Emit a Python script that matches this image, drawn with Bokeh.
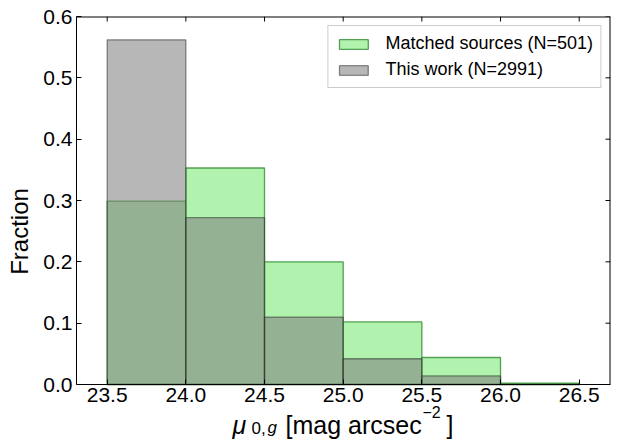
from bokeh.plotting import figure
from bokeh.models import Range1d, FixedTicker, Label, NumeralTickFormatter
from bokeh.embed import file_html
from bokeh.resources import INLINE

# ---- data ----
bin_edges = [23.5, 24.0, 24.5, 25.0, 25.5, 26.0, 26.5]
matched_frac = [0.299, 0.353, 0.200, 0.102, 0.044, 0.002]
thiswork_frac = [0.562, 0.272, 0.110, 0.042, 0.014, 0.0]
x_ticks = [23.5, 24.0, 24.5, 25.0, 25.5, 26.0, 26.5]
y_ticks = [0.0, 0.1, 0.2, 0.3, 0.4, 0.5, 0.6]
matched_label = "Matched sources (N=501)"
thiswork_label = "This work (N=2991)"
y_label = "Fraction"

FONT = "Liberation Sans"
W, H = 625, 446
BL, BR, BT = 76, 15, 16
AX_PX = 384                  # page y of the x axis (value 0)
X0, X1 = 23.305, 26.699
Y0, Y1 = 0.0, 0.6
TICK = 5                     # px, inward ticks

# the frame runs down to the page bottom so the x label can live inside it;
# the x axis is pinned at y = 0
px_per_y = (AX_PX - BT) / (Y1 - Y0)
YB = Y0 - (H - AX_PX) / px_per_y

p = figure(width=W, height=H, output_backend="svg", toolbar_location=None,
           x_range=Range1d(X0, X1), y_range=Range1d(YB, Y1),
           min_border_left=BL, min_border_right=BR, min_border_top=BT,
           min_border_bottom=0)
p.grid.visible = False
p.outline_line_color = None
p.background_fill_color = "white"
p.border_fill_color = "white"

left = bin_edges[:-1]
right = bin_edges[1:]
p.quad(left=left, right=right, bottom=0, top=matched_frac,
       fill_color="#b0f2ae", fill_alpha=1.0,
       line_color="#2e8b2e", line_alpha=0.8, line_width=1.3,
       legend_label=matched_label)
p.quad(left=left, right=right, bottom=0, top=thiswork_frac,
       fill_color="#808080", fill_alpha=0.567,
       line_color="#222222", line_alpha=0.5, line_width=1.3,
       legend_label=thiswork_label)

# box: top and right edges, plus inward ticks mirrored there
fw = W - BL - BR
dy = TICK / px_per_y
dx = (X1 - X0) * TICK / fw
p.segment(x0=[X0, X1], y0=[Y1, Y0], x1=[X1, X1], y1=[Y1, Y1],
          line_color="black", line_width=2)
p.segment(x0=x_ticks, y0=[Y1] * len(x_ticks), x1=x_ticks, y1=[Y1 - dy] * len(x_ticks),
          line_color="black", line_width=1)
p.segment(x0=[X1] * len(y_ticks), y0=y_ticks, x1=[X1 - dx] * len(y_ticks), y1=y_ticks,
          line_color="black", line_width=1)


def style_axis(ax):
    ax.major_tick_in = TICK
    ax.major_tick_out = 0
    ax.minor_tick_in = 0
    ax.minor_tick_out = 0
    ax.major_tick_line_color = "black"
    ax.major_label_text_font = FONT
    ax.major_label_text_color = "black"
    ax.axis_line_color = "black"


xa = p.xaxis[0]
xa.ticker = FixedTicker(ticks=x_ticks)
xa.formatter = NumeralTickFormatter(format="0.0")
style_axis(xa)
xa.fixed_location = 0
xa.major_label_text_font_size = "21px"
xa.major_label_standoff = 3

ya = p.yaxis[0]
ya.ticker = FixedTicker(ticks=y_ticks)
ya.formatter = NumeralTickFormatter(format="0.0")
ya.bounds = (Y0, Y1)
style_axis(ya)
ya.major_label_text_font_size = "21px"
ya.major_label_standoff = 4
ya.axis_label = y_label
ya.axis_label_text_font = FONT
ya.axis_label_text_font_size = "24px"
ya.axis_label_text_font_style = "normal"
ya.axis_label_text_color = "black"
ya.axis_label_standoff = 7

lg = p.legend[0]
lg.location = "top_right"
lg.margin = 9
lg.padding = 7
lg.spacing = 5
lg.label_standoff = 14
lg.glyph_width = 36
lg.glyph_height = 12
lg.label_text_font = FONT
lg.label_text_font_size = "18px"
lg.label_text_color = "black"
lg.border_line_color = "#cccccc"
lg.border_line_alpha = 1
lg.background_fill_alpha = 0.8

# x-axis label, composed of pieces (mu with subscript, superscript -2);
# screen units: px from frame left, px up from frame bottom (page bottom)
xlabel_parts = [
    ("\u03bc", 156, 22, "25px", "italic"),
    ("0,", 175, 19, "17px", "normal"),
    ("g", 191, 19, "17px", "italic"),
    ("[mag arcsec", 209, 22, "25px", "normal"),
    ("\u22122", 346, 35, "16px", "normal"),
    ("]", 370, 22, "25px", "normal"),
]
for txt, xx, yy, sz, st in xlabel_parts:
    p.add_layout(Label(x=xx, y=yy, x_units="screen", y_units="screen", text=txt,
                       text_font=FONT, text_font_size=sz, text_font_style=st,
                       text_color="black", text_baseline="alphabetic",
                       text_align="left"))

open("out.html", "w").write(file_html(p, INLINE))
